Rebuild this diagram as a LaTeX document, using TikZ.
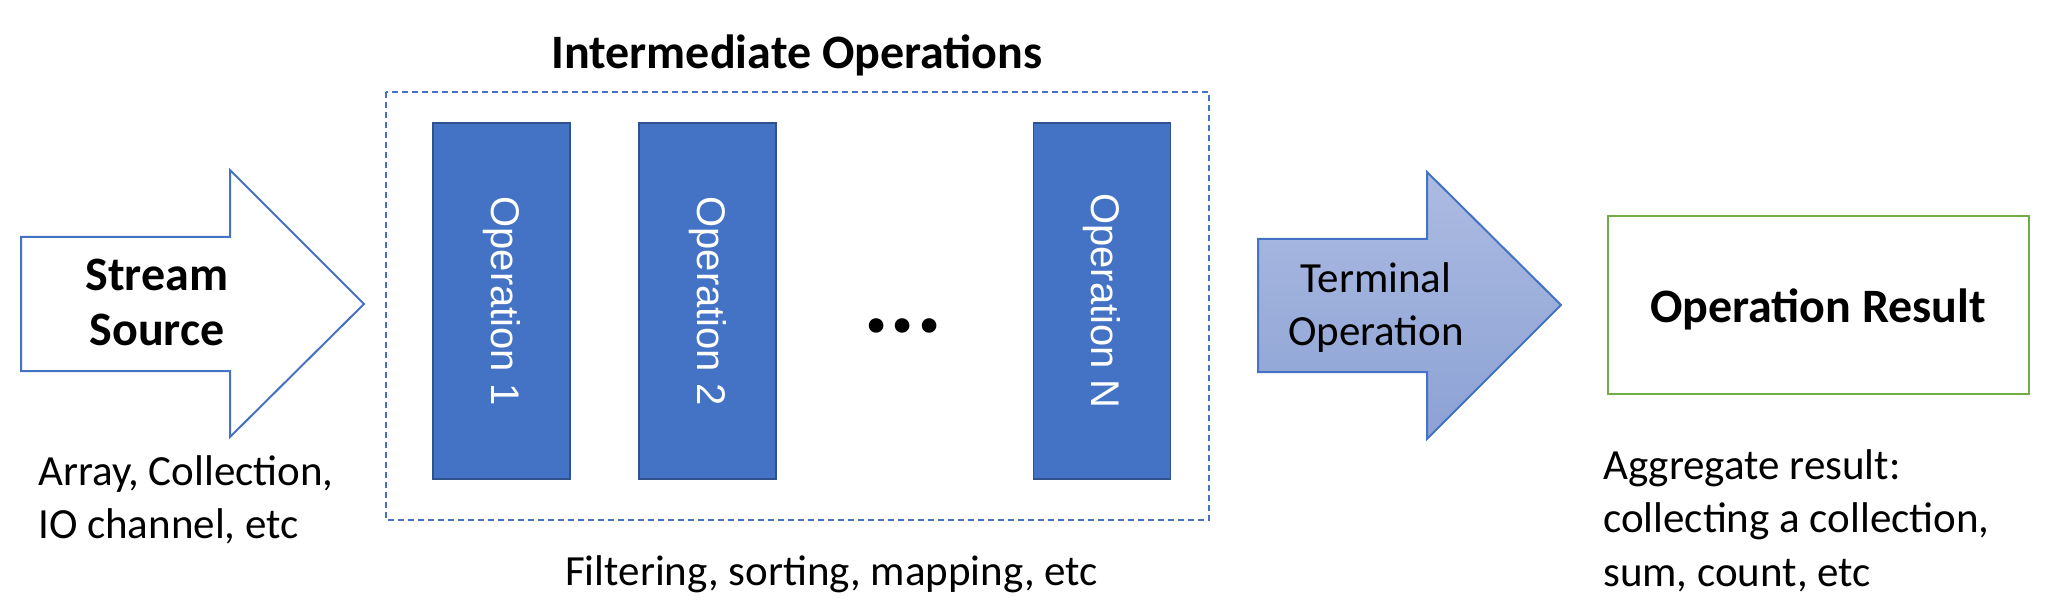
\documentclass[tikz,border=0pt]{standalone}
\usepackage{fontspec}
\setmainfont{Carlito}
\newfontfamily\opfont{Liberation Sans}
\definecolor{msblue}{RGB}{68,114,196}
\definecolor{opborder}{RGB}{47,82,143}
\definecolor{msgreen}{RGB}{112,173,71}
\definecolor{gradtop}{RGB}{172,187,225}
\definecolor{gradbot}{RGB}{140,162,213}
\tikzset{
  srcarrow/.style={draw=msblue, line width=2pt, fill=white, line join=miter},
  termarrow/.style={draw=msblue, line width=2pt, top color=gradtop, bottom color=gradbot, line join=miter},
  groupbox/.style={draw=msblue, line width=2pt, dash pattern=on 6pt off 4pt},
  opbox/.style={draw=opborder, line width=1.5pt, fill=msblue, rotate=-90,
    minimum width=356pt, minimum height=137pt, inner sep=0pt,
    text=white, font=\opfont\fontsize{40}{48}\selectfont},
  resbox/.style={draw=msgreen, line width=2.5pt},
  boldtxt/.style={inner sep=0pt, font=\bfseries\fontsize{48}{55}\selectfont},
  regtxt/.style={inner sep=0pt, font=\fontsize{43}{53}\selectfont},
}
\begin{document}
\begin{tikzpicture}[x=1pt,y=-1pt]
\useasboundingbox (0,0) rectangle (2048,604);
% stream source arrow
\draw[srcarrow] (21,237) -- (230,237) -- (230,170) -- (364,304) -- (230,437) -- (230,371) -- (21,371) -- cycle;
\node[boldtxt, anchor=base] (src) at (157,290) {\begin{tabular}[t]{@{}c@{}}Stream\\Source\end{tabular}};
\node[regtxt, anchor=base west] (srcnote) at (38,485) {\begin{tabular}[t]{@{}l@{}}Array, Collection,\\IO channel, etc\end{tabular}};
% intermediate operations
\draw[groupbox] (386,92) rectangle (1209,520);
\node[boldtxt, anchor=base] (title) at (797,69) {Intermediate Operations};
\node[opbox] (op1) at (501.5,301) {Operation 1};
\node[opbox] (op2) at (707.5,301) {Operation 2};
\node[opbox] (opn) at (1102,301) {Operation N};
\node[inner sep=0pt, font=\bfseries\fontsize{98}{100}\selectfont] (dots) at (903,326) {...};
\node[regtxt, anchor=base west] (midnote) at (565,585) {Filtering, sorting, mapping, etc};
% terminal operation arrow
\draw[termarrow] (1258,239) -- (1427,239) -- (1427,172) -- (1561,305) -- (1427,439) -- (1427,372) -- (1258,372) -- cycle;
\node[regtxt, anchor=base] (term) at (1376,292) {\begin{tabular}[t]{@{}c@{}}Terminal\\Operation\end{tabular}};
% result
\draw[resbox] (1608,216) rectangle (2029,394);
\node[boldtxt, anchor=base] (res) at (1818,322) {Operation Result};
\node[inner sep=0pt, anchor=base west, font=\fontsize{43}{53.5}\selectfont] (resnote) at (1603,479) {\begin{tabular}[t]{@{}l@{}}Aggregate result:\\collecting a collection,\\sum, count, etc\end{tabular}};
\end{tikzpicture}
\end{document}
